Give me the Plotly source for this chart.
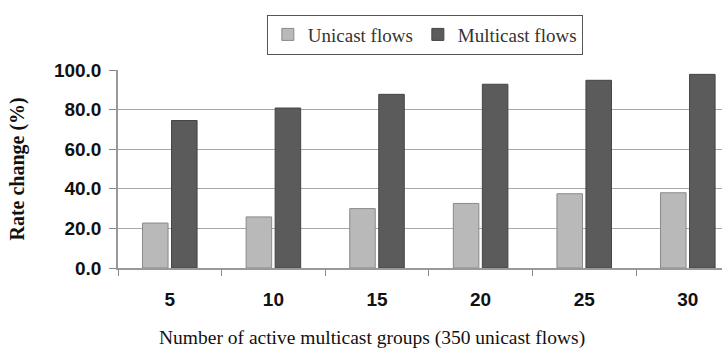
import plotly.graph_objects as go

# Number of active multicast groups (x categories)
groups = ["5", "10", "15", "20", "25", "30"]
# Rate change (%) per flow type
unicast = [22.7, 25.8, 30.0, 32.6, 37.5, 38.0]
multicast = [74.5, 80.8, 87.7, 92.8, 94.8, 97.8]
y_ticks = [0, 20, 40, 60, 80, 100]
y_tick_text = ["0.0", "20.0", "40.0", "60.0", "80.0", "100.0"]

SERIF = "Liberation Serif, Times New Roman, serif"
NARROW = "Liberation Sans Narrow, Arial Narrow, Liberation Sans, sans-serif"

fig = go.Figure()
fig.add_bar(
    x=groups, y=unicast, name="Unicast flows",
    marker=dict(color="#b9b9b9", line=dict(color="#8a8a8a", width=1)),
)
fig.add_bar(
    x=groups, y=multicast, name="Multicast flows",
    marker=dict(color="#5b5b5b", line=dict(color="#444444", width=1)),
)

fig.update_layout(
    width=722, height=354,
    margin=dict(l=118, r=0, t=70, b=86),
    paper_bgcolor="white", plot_bgcolor="white",
    barmode="group", bargap=0.44, bargroupgap=0.12,
    showlegend=True,
    legend=dict(
        orientation="h", x=0.508, xanchor="center", y=1.28, yanchor="top",
        font=dict(family=SERIF, size=19, color="#333333"),
        bordercolor="#555555", borderwidth=1, bgcolor="white",
        itemwidth=30, tracegroupgap=0,
    ),
    xaxis=dict(
        type="category", range=[-0.5, 5.33],
        tickson="boundaries", ticks="outside", ticklen=6, tickcolor="#888888",
        showline=True, linecolor="#999999", linewidth=1.5,
        tickfont=dict(family=NARROW, size=19, color="#111111", weight="bold"),
        ticklabelstandoff=13,
        showgrid=False,
    ),
    yaxis=dict(
        range=[0, 100], tickvals=y_ticks, ticktext=y_tick_text,
        ticks="outside", ticklen=7, tickcolor="#888888",
        showline=True, linecolor="#999999", linewidth=1.5,
        showgrid=True, gridcolor="#a8a8a8", gridwidth=1.2,
        zeroline=False,
        tickfont=dict(family=NARROW, size=19, color="#111111", weight="bold"),
        ticklabelstandoff=4,
    ),
    annotations=[
        dict(
            text="<b>Rate change (%)</b>", textangle=-90,
            xref="paper", yref="paper", x=-0.168, y=0.5,
            xanchor="center", yanchor="middle", showarrow=False,
            font=dict(family=SERIF, size=20, color="#111111"),
        ),
        dict(
            text="Number of active multicast groups (350 unicast flows)",
            xref="paper", yref="paper", x=0.42, y=-0.29,
            xanchor="center", yanchor="top", showarrow=False,
            font=dict(family=SERIF, size=19.5, color="#111111"),
        ),
    ],
)

fig.write_html("out.html")
